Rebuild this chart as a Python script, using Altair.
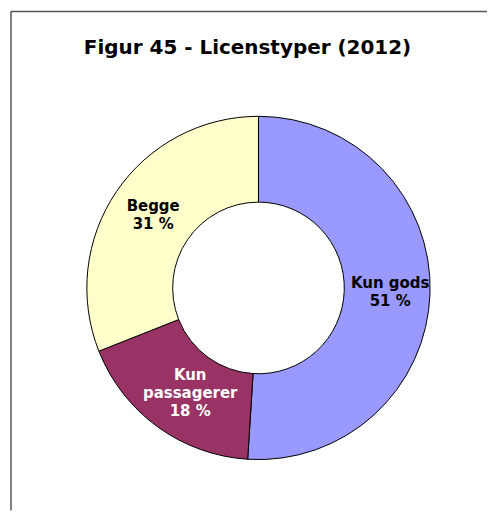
import altair as alt
import pandas as pd

categories = ["Kun gods", "Kun passagerer", "Begge"]
values = [51, 18, 31]
labels = ["Kun gods\n51 %", "Kun\npassagerer\n18 %", "Begge\n31 %"]
colors = ["#9999FF", "#993366", "#FFFFCC"]
title_text = "Figur 45 - Licenstyper (2012)"

df = pd.DataFrame({
    "category": categories,
    "value": values,
    "label": labels,
    "lines": [l.count("\n") + 1 for l in labels],
    "idx": list(range(len(categories))),
})

W, H = 480, 503
CX, CY = 251, 280
LH = 18
total = sum(values)

arcs = alt.Chart(df).mark_arc(outerRadius=172, innerRadius=86, stroke="black", strokeWidth=1).encode(
    theta=alt.Theta("value:Q", stack=True),
    order=alt.Order("idx:Q"),
    x=alt.value(CX),
    y=alt.value(CY),
    color=alt.Color("category:N", scale=alt.Scale(domain=categories, range=colors), legend=None),
)

def text_layer(n, dx):
    return alt.Chart(df).transform_stack(
        stack="value", as_=["v0", "v1"], groupby=[], sort=[alt.SortField("idx", order="ascending")]
    ).transform_calculate(
        mid="(datum.v0 + datum.v1) / 2"
    ).transform_filter(alt.datum.lines == n).mark_text(
        radius=130, font="DejaVu Sans", fontSize=15, fontWeight="bold",
        lineBreak="\n", lineHeight=LH, align="center", baseline="middle",
        dy=-(n - 1) * LH / 2, dx=dx
    ).encode(
        theta=alt.Theta("mid:Q", scale=alt.Scale(domain=[0, total]), stack=None),
        x=alt.value(CX),
        y=alt.value(CY),
        text="label:N",
        color=alt.condition(alt.datum.category == "Kun passagerer", alt.value("white"), alt.value("black")),
    )

texts2 = text_layer(2, 2)
texts3 = text_layer(3, 8)

title = alt.Chart(pd.DataFrame({"t": [title_text]})).mark_text(
    font="DejaVu Sans", fontSize=20, fontWeight="bold", align="center", baseline="middle", color="black"
).encode(text="t:N", x=alt.value(240), y=alt.value(40))

frame_top = alt.Chart(pd.DataFrame({"a": [0]})).mark_rule(color="#555555", strokeWidth=1.5).encode(
    x=alt.value(3), x2=alt.value(W), y=alt.value(3)
)
frame_left = alt.Chart(pd.DataFrame({"a": [0]})).mark_rule(color="#555555", strokeWidth=1.5).encode(
    x=alt.value(3), y=alt.value(3), y2=alt.value(H)
)

chart = alt.layer(frame_top, frame_left, arcs, texts2, texts3, title).resolve_scale(
    theta="independent"
).properties(
    width=W, height=H, padding=0, background="white"
).configure_view(stroke=None)

chart.save("out.html", embed_options={"renderer": "svg", "actions": False})
